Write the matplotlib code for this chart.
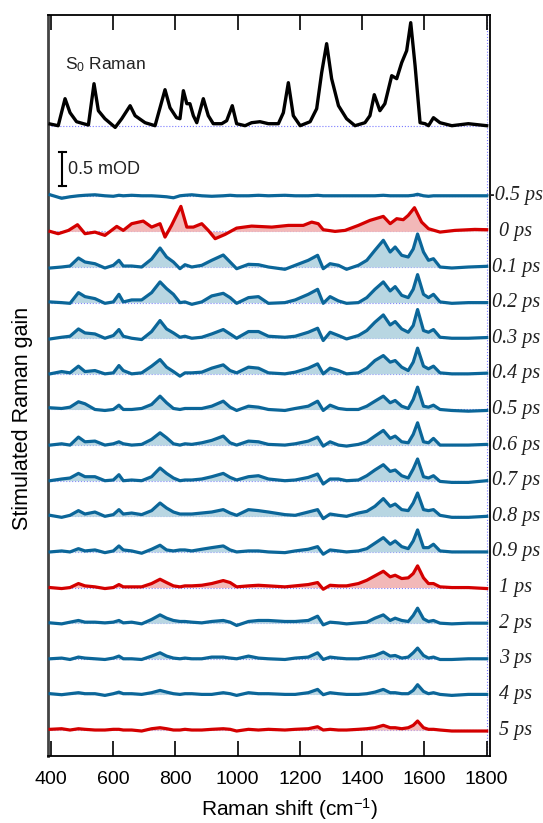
import matplotlib
matplotlib.use('Agg')
import matplotlib.pyplot as plt
import numpy as np

plt.rcParams['font.family'] = ['Liberation Sans', 'DejaVu Sans']
plt.rcParams['mathtext.fontset'] = 'custom'
plt.rcParams['mathtext.rm'] = 'Liberation Sans'
plt.rcParams['mathtext.it'] = 'Liberation Sans:italic'

# ground state Raman (arb. units)
s0_shift = [398, 424, 446, 462, 483, 505, 521, 539, 553, 574, 607, 628, 655, 671, 703, 735,
            767, 783, 804, 815, 826, 837, 847, 858, 869, 890, 906, 922, 949, 965, 983, 997,
            1024, 1045, 1072, 1099, 1131, 1147, 1163, 1179, 1201, 1233, 1254, 1270, 1286, 1302,
            1324, 1350, 1377, 1409, 1425, 1439, 1457, 1473, 1495, 1511, 1527, 1543, 1556, 1570,
            1586, 1602, 1613, 1629, 1650, 1688, 1741, 1800]
s0_int = [1.7, 0, 27, 13, 4, 2, 0.7, 42, 15, 7, -1.7, 7, 20, 10, 3, 0,
          36, 18, 8, 7, 35, 22, 22, 10, 3, 27, 10, 2, 2, 5, 20, 2,
          0, 3, 4, 2, 2, 13, 43, 10, 0, 4, 17, 53, 82, 47,
          20, 7, 0, 3, 10, 31, 15, 22, 50, 47, 63, 75, 103, 60,
          3, 2, 0, 8, 3, 0, 2, 0]

# transient stimulated Raman gain, sampled shifts (cm-1)
shift = [398, 435, 462, 489, 510, 542, 574, 601, 619, 633, 660, 692, 724, 751, 772, 794,
         815, 831, 853, 885, 917, 954, 976, 997, 1035, 1067, 1099, 1152, 1185, 1227, 1257,
         1275, 1297, 1324, 1350, 1388, 1415, 1441, 1468, 1490, 1506, 1527, 1548, 1564, 1578,
         1597, 1613, 1629, 1650, 1688, 1741, 1800]

shift_0ps = [398, 424, 457, 486, 510, 542, 574, 612, 633, 660, 697, 724, 751, 767, 788, 818,
             837, 858, 885, 906, 928, 960, 997, 1045, 1110, 1163, 1211, 1238, 1259, 1275, 1313,
             1345, 1388, 1425, 1468, 1490, 1511, 1532, 1548, 1568, 1591, 1613, 1650, 1698,
             1762, 1800]

# gain values, in units of 0.5/34 mOD
g_m05 = [1, -2.5, -1, 0, 0.5, 1, 0, -0.5, 0.5, 0, 0.5, 0, 0, -0.5, -1, -2, 0, 0.5, 1, 0,
         -0.5, 0, 0.5, 0, 0, 0.5, 0, 0.5, 0, 0, 0.5, 0, 0, 0, 0, 0, 0, 0, 0.5, 0, 0, 0, 0,
         0.5, 1.5, 0, -0.5, 0, 0, 0, 0, 0]
g_0 = [0, -2.3, 1, 6.7, -2.3, -0.7, -4, 5, 1, 7.7, 10.3, 4.3, 7.7, -5.7, 6, 25,
       4.3, 4.3, 7.7, 1, -7.3, -3, 3.3, 5.3, 4.3, 6, 6, 9.3, 7.7, 1.7, 0,
       1, 6, 11, 15, 7.7, 12.7, 11.7, 16, 23.7, 9.3, 2.7, -0.7, 1, 2, 1.7]
g_01 = [-1, 0, 1, 9, 5, 3.3, -1, 1.7, 6.7, 1, 1, 0, 8, 19, 10, 5, -1.7, 2.3, 0, 1.7, 6.7,
        12, 5, -1.7, 2.7, 2.3, 0, -2.3, 1.7, 6.7, 11.7, -1.7, 3.3, 1.7, -2.3, 1.7, 6.7,
        16.7, 26.7, 15, 20, 11.7, 10, 18, 33, 15, 6.7, 8.3, 0, -1, 0, 0.7]
g_02 = [0.7, 0, -0.7, 10, 6, 4, -0.7, 0.7, 8.3, 0.7, 2.7, 2.7, 10, 20.7, 14, 8.3, 0, 0.7,
        -1.7, 0.7, 6.7, 9.3, 5, -0.7, 5, 6, -0.7, 0, 2.7, 8.3, 13.3, -0.7, 6, 1.7, -0.7, 0,
        5, 13.3, 20.7, 11.7, 16, 7.3, 5, 13.3, 28, 8.3, 5, 8.3, 0.7, -0.7, 0, 0]
g_03 = [-0.7, 1, 2, 9.3, 5.3, 4.3, 0, 2.7, 8.7, 2, 0, -1.3, 6.7, 17.7, 9.3, 5.3, 1, 2, 0, 1,
        4.3, 8.7, 4.3, 0, 6.7, 6.7, 2, 1, 2, 6, 10, -2.3, 6, 2.7, -0.7, 2.7, 7.7, 16, 23.3,
        13.3, 16.7, 9.3, 6, 12.7, 28.7, 7.7, 6, 8.7, 1, 0, 0, 0.7]
g_04 = [0, 2.3, 1, 7.7, 2.3, 3.3, 0, 1, 8.3, 3.3, 0, 1, 7.7, 14.3, 6.7, 2.3, -2.3, 1, 1,
        1.7, 5.7, 9, 3.3, 1, 6.7, 5.7, 1, 0, 1.7, 5.7, 10, 0, 5.7, 3.3, 0, 1, 5.7, 13.3,
        18.3, 11.7, 13.3, 6.7, 3.3, 11.7, 25.7, 7.7, 5, 7.7, 1, 0, 0, 0.7]
g_05 = [1.7, 1, 2.3, 7.7, 5.7, 0, -1, 0, 4.3, 0, 0, 1, 5, 13.3, 6.7, 1, 0, 1, 1, 1, 3.3,
        8.3, 2.3, -1, 3.3, 2.3, 0, -1, 1, 3.3, 8.3, -1, 4.3, 1, 0, 0, 3.3, 8.3, 13.3, 6.7,
        9, 3.3, 1, 10, 22.3, 3.3, 2.3, 4.3, 0, -1, -1.7, -1]
g_06 = [0, 1.3, 0, 8, 3.3, 4, 0, 1.3, 3.3, 1.3, 0, 0.7, 5.7, 12.3, 7.3, 1.3, 0, 1.3, 0.7,
        2.3, 4.7, 9, 2.3, 0, 4, 3.3, 0.7, 0, 1.3, 4, 8, -1, 3.3, 0, -1, 0.7, 3.3, 9, 14.7,
        6.7, 9, 3.3, 2.3, 10.7, 22.3, 3.3, 2.3, 6.7, 0, 0, 0, 0.7]
g_07 = [0, 1.7, 2.7, 7.3, 4, 4, 0, 0.7, 6, 0, 0.7, 0, 4, 12.7, 7.3, 2.7, 0, 0.7, 0.7, 1.7,
        4, 7.3, 3.3, 0.7, 4, 5, 1.7, 0, 0.7, 3.3, 6.7, -3.3, 1.7, 1.7, 0, 0.7, 5, 10.7, 16,
        9.3, 10.7, 5, 2.7, 11.7, 21.7, 4, 2.7, 5, -0.7, -1.7, -1.7, 0]
g_08 = [1, -1, 1, 5.7, 2.3, 4.3, 0, 1.7, 6.7, 2.3, 3.3, 1.7, 5.7, 13.3, 8.3, 4.3, 2.3, 2.3,
        2.3, 3.3, 4.3, 6.7, 3.3, 1, 6.7, 5.7, 4.3, 1.7, 1, 4.3, 6.7, -2.3, 2.3, 1, 0, 3.3, 5,
        10, 17.7, 10, 12.3, 6.7, 5.7, 13.3, 23.3, 6.7, 5.7, 6.7, 1, -1, -1, 0]
g_09 = [0, 1, 0, 3.3, 1, 2, -0.7, 1, 6, 2, 1, -1.3, 2.7, 6.7, 2, 1, 2, 2, 1, 2.7, 4.3, 6,
        2, 0, 1, 1, 0, -0.7, 1, 2.7, 5.3, -2.3, 2, 1, 0, 1, 3.3, 8.7, 14.3, 7.7, 11, 5.3,
        3.3, 11, 22, 4.3, 4.3, 7.7, 1, 0, 0, 0]
g_1 = [0, -1, 0, 4, 1.7, 0.7, -1, 0, 3, 0.7, 0.7, 0.7, 4, 8.3, 5, 1.7, 0.7, 1.7, 1.7, 2.3,
       4, 7, 5, 0.7, 1.7, 2.3, 1.7, 0.7, 1.7, 3, 5, -1.7, 2.3, 1.7, 1.7, 4, 7.3, 11.7, 16.3,
       10.7, 12.3, 9, 9.7, 14, 21.7, 9.7, 4, 4, 0.7, 0, 0, -1]
g_2 = [0.3, -0.7, 1, 2.7, 1, 1, 0.3, 1, 2.7, 0.3, 1, -0.7, 3.7, 8.3, 5, 2.7, 1.7, 1.7, 1,
       0.3, 1.7, 2.7, 1, -2.3, 1.7, 2.7, 2.7, 1.7, 1.7, 2.7, 7, -1.7, 1, 0.3, -0.7, 0.3, 1,
       5, 8.3, 2.7, 5, 2.7, 1.7, 7.7, 15, 4.3, 1.7, 2.7, 0, -0.7, 0, 0]
g_3 = [0, 0.7, -0.7, 1.7, 0.7, 0, -0.7, 0.7, 2.7, 0, 0, -0.7, 2.7, 6, 2.7, 0.7, 0, 0.7, 0,
       0, 1.7, 1.7, 0.7, 0, 2.7, 0.7, 0, -0.7, 0.7, 1.7, 6, -0.7, 1.7, 0.7, 0, 0, 1.7, 3.3,
       6.7, 2.7, 3.3, 0.7, 1.7, 6, 10.7, 3.3, 0.7, 1.7, -0.7, -0.7, 0, 0]
g_4 = [0.7, -0.3, 0.7, 1.7, 0.7, 0.7, -1, 0.7, 2.3, 0.7, 0.7, 0, 1.7, 4, 2.3, 0.7, 0, 0.7,
       0.7, 0, 0, 1.7, 0.7, -1, 1.7, 0.7, 0.7, 0, 0, 1.7, 5, -0.3, 1.7, 0.7, 0, 0, 0.7, 2.3,
       5, 1.7, 1.7, 0.7, 0.7, 4, 9.7, 3, 0.7, 1.7, 0, -1, 0, 0]
g_5 = [0.7, 1.3, 0, 1.3, 0.7, 0, 0, 0.7, 0.7, 0, 0, -1, 1.3, 2.3, 1.3, 0, 0, 0.7, 0, 0, 0.7,
       1.3, 0.7, -1, 0.7, 0, 0.7, 0, 0.7, 1.3, 3.3, 0, 0.7, 0, 0, 0.7, 1.3, 2.3, 4.7, 2.3,
       2.3, 1.3, 2.3, 4.7, 9, 2.3, 0.7, 0.7, 0, -1, -1, -1]

delays = ['-0.5 ps', '0 ps', '0.1 ps', '0.2 ps', '0.3 ps', '0.4 ps', '0.5 ps', '0.6 ps',
          '0.7 ps', '0.8 ps', '0.9 ps', '1 ps', '2 ps', '3 ps', '4 ps', '5 ps']
gains = [g_m05, g_0, g_01, g_02, g_03, g_04, g_05, g_06, g_07, g_08, g_09, g_1,
         g_2, g_3, g_4, g_5]
red_delays = ['0 ps', '1 ps', '5 ps']

unit = 0.5 / 34.0       # mOD per unit
step = 0.5235           # vertical offset between traces (mOD)
s0_offset = 1.03        # S0 baseline above -0.5 ps baseline

blue = '#0b6699'
blue_fill = '#b8d6e2'
red = '#d40000'
red_fill = '#f2b8b8'
base_col = '#7a7aff'

fig = plt.figure(figsize=(5.43, 8.23), dpi=100)
ax = fig.add_axes([0.089, 0.0814, 0.8125, 0.9004])

n = len(delays)
for i, (lab, g) in enumerate(zip(delays, gains)):
    off = (n - 1 - i) * step
    x = shift_0ps if lab == '0 ps' else shift
    y = np.array(g) * unit + off
    if lab in red_delays:
        c, fc = red, red_fill
    else:
        c, fc = blue, blue_fill
    ax.plot([400, 1800], [off, off], color=base_col, lw=0.8, ls=':', zorder=1)
    ax.fill_between(x, off, y, color=fc, lw=0, zorder=2)
    ax.plot(x, y, color=c, lw=2.3, zorder=3, solid_joinstyle='round')
    ax.text(1894, off, lab, ha='center', va='center', fontsize=14.5,
            family='Liberation Serif', style='italic', color='#222222', clip_on=False)

# S0 Raman on top
s0_base = (n - 1) * step + s0_offset
ax.plot([400, 1800], [s0_base, s0_base], color=base_col, lw=0.8, ls=':', zorder=1)
ax.plot(s0_shift, np.array(s0_int) / 68.0 + s0_base, color='black', lw=2.4, zorder=3,
        solid_joinstyle='round')
ax.text(445, s0_base + 0.9, r'S$_0$ Raman', fontsize=12.5, color='#222222', va='center')

# scale bar 0.5 mOD
sb_bot = (n - 1) * step + 0.14
ax.plot([437, 437], [sb_bot, sb_bot + 0.5], color='black', lw=1.5)
ax.plot([425, 449], [sb_bot, sb_bot], color='black', lw=1.5)
ax.plot([425, 449], [sb_bot + 0.5, sb_bot + 0.5], color='black', lw=1.5)
ax.text(455, sb_bot + 0.25, '0.5 mOD', fontsize=13, va='center', color='#222222')

ax.axvline(1800, color=base_col, lw=0.8, ls=':', zorder=1)

ax.set_xlim(392.3, 1809)
ax.set_ylim(-0.382, 10.51)
ax.set_xticks(np.arange(400, 1801, 200))
ax.set_yticks([])
ax.tick_params(axis='x', direction='in', top=True, length=11, width=1.2, labelsize=14, pad=11)
for s in ax.spines.values():
    s.set_linewidth(1.3)
    s.set_zorder(0.5)
ax.spines['left'].set_linewidth(2)
ax.spines['left'].set_color('#444444')

# axis labels placed as in the reference
fig.text(0.534, 0.0085, r'Raman shift (cm$^{\mathregular{-1}}$)', fontsize=15,
         ha='center', va='baseline')
fig.text(0.041, 0.491, 'Stimulated Raman gain', fontsize=15.5, rotation=90,
         ha='center', va='center')

fig.savefig('out.png', dpi=100)
